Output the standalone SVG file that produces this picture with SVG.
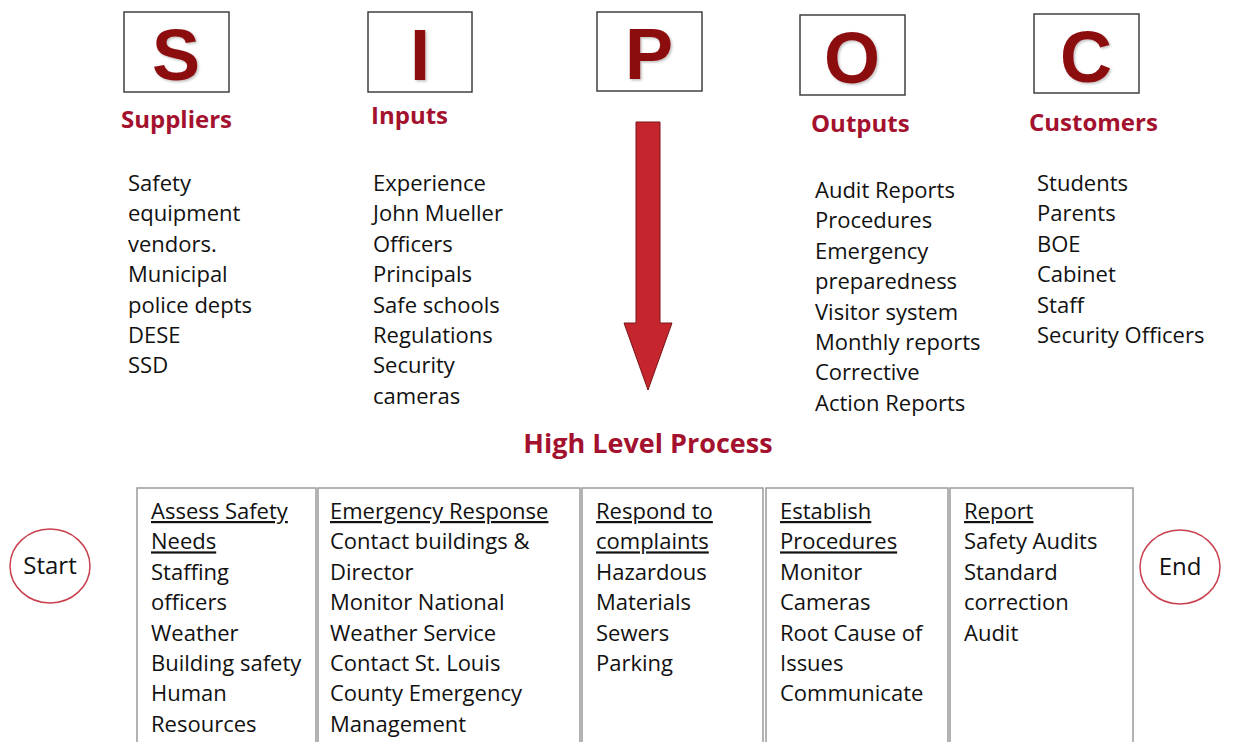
<svg xmlns="http://www.w3.org/2000/svg" width="1233" height="742" viewBox="0 0 1233 742">
  <style>
    .letterbox { fill: #ffffff; stroke: #404040; stroke-width: 1.5; }
    .letter { font-family: "Liberation Sans", Arial, sans-serif; font-weight: bold; font-size: 72px; fill: #8c0a10; text-anchor: middle; }
    .head { font-family: "Open Sans", "Noto Sans", sans-serif; font-weight: bold; font-size: 24px; fill: #a3112e; }
    .title { font-size: 27px; text-anchor: middle; }
    .body { font-family: "Open Sans", "Noto Sans", sans-serif; font-size: 22px; fill: #111111; }
    .termtext { font-size: 24px; text-anchor: middle; }
    .cell { fill: #ffffff; stroke: #9a9a9a; stroke-width: 1.5; }
    .u { text-decoration: underline; }
    .term { fill: #ffffff; stroke: #c8404e; stroke-width: 1.5; }
  </style>
  <defs>
    <filter id="soft" x="-10%" y="-10%" width="130%" height="130%">
      <feDropShadow dx="1.5" dy="1.5" stdDeviation="1" flood-color="#000" flood-opacity="0.25"/>
    </filter>
  </defs>
  <rect width="1233" height="742" fill="#ffffff"/>

  <!-- SIPOC letter headers -->
  <g id="node-s">
    <rect class="letterbox" x="124" y="12" width="105" height="80"/>
    <text class="letter" x="176" y="80" filter="url(#soft)">S</text>
    <text class="head" x="121" y="128">Suppliers</text>
    <text class="body" x="128" y="191">
      <tspan x="128">Safety</tspan>
      <tspan x="128" dy="30.4">equipment</tspan>
      <tspan x="128" dy="30.4">vendors.</tspan>
      <tspan x="128" dy="30.4">Municipal</tspan>
      <tspan x="128" dy="30.4">police depts</tspan>
      <tspan x="128" dy="30.4">DESE</tspan>
      <tspan x="128" dy="30.4">SSD</tspan>
    </text>
  </g>

  <g id="node-i">
    <rect class="letterbox" x="368" y="12" width="104" height="80"/>
    <text class="letter" x="420" y="80" filter="url(#soft)">I</text>
    <text class="head" x="371" y="124">Inputs</text>
    <text class="body" x="373" y="191">
      <tspan x="373">Experience</tspan>
      <tspan x="373" dy="30.4">John Mueller</tspan>
      <tspan x="373" dy="30.4">Officers</tspan>
      <tspan x="373" dy="30.4">Principals</tspan>
      <tspan x="373" dy="30.4">Safe schools</tspan>
      <tspan x="373" dy="30.4">Regulations</tspan>
      <tspan x="373" dy="30.4">Security</tspan>
      <tspan x="373" dy="30.4">cameras</tspan>
    </text>
  </g>

  <g id="node-p">
    <rect class="letterbox" x="597" y="12" width="105" height="79"/>
    <text class="letter" x="649" y="79" filter="url(#soft)">P</text>
  </g>

  <g id="node-o">
    <rect class="letterbox" x="800" y="15" width="105" height="80"/>
    <text class="letter" x="852" y="83" filter="url(#soft)">O</text>
    <text class="head" x="811" y="132">Outputs</text>
    <text class="body" x="815" y="198">
      <tspan x="815">Audit Reports</tspan>
      <tspan x="815" dy="30.4">Procedures</tspan>
      <tspan x="815" dy="30.4">Emergency</tspan>
      <tspan x="815" dy="30.4">preparedness</tspan>
      <tspan x="815" dy="30.4">Visitor system</tspan>
      <tspan x="815" dy="30.4">Monthly reports</tspan>
      <tspan x="815" dy="30.4">Corrective</tspan>
      <tspan x="815" dy="30.4">Action Reports</tspan>
    </text>
  </g>

  <g id="node-c">
    <rect class="letterbox" x="1034" y="14" width="105" height="79"/>
    <text class="letter" x="1086" y="82" filter="url(#soft)">C</text>
    <text class="head" x="1029" y="131">Customers</text>
    <text class="body" x="1037" y="191">
      <tspan x="1037">Students</tspan>
      <tspan x="1037" dy="30.4">Parents</tspan>
      <tspan x="1037" dy="30.4">BOE</tspan>
      <tspan x="1037" dy="30.4">Cabinet</tspan>
      <tspan x="1037" dy="30.4">Staff</tspan>
      <tspan x="1037" dy="30.4">Security Officers</tspan>
    </text>
  </g>

  <!-- downward process arrow -->
  <g id="connectors">
    <path d="M636,122 L660,122 L660,323 L672,323 L648,390 L624,323 L636,323 Z" fill="#c5262e" stroke="#7a1418" stroke-width="1"/>
  </g>

  <g id="title">
    <text class="head title" x="648" y="453">High Level Process</text>
  </g>

  <!-- terminals -->
  <g id="node-start">
    <ellipse class="term" cx="50" cy="566" rx="40" ry="37"/>
    <text class="body termtext" x="50" y="574">Start</text>
  </g>
  <g id="node-end">
    <ellipse class="term" cx="1180" cy="567" rx="40" ry="37"/>
    <text class="body termtext" x="1180" y="575">End</text>
  </g>

  <!-- process steps -->
  <g id="step-assess">
    <rect class="cell" x="137" y="488" width="179" height="270"/>
    <text class="body" x="151" y="519">
      <tspan x="151" class="u">Assess Safety</tspan>
      <tspan x="151" dy="30.4" class="u">Needs</tspan>
      <tspan x="151" dy="30.4">Staffing</tspan>
      <tspan x="151" dy="30.4">officers</tspan>
      <tspan x="151" dy="30.4">Weather</tspan>
      <tspan x="151" dy="30.4">Building safety</tspan>
      <tspan x="151" dy="30.4">Human</tspan>
      <tspan x="151" dy="30.4">Resources</tspan>
    </text>
  </g>

  <g id="step-emergency">
    <rect class="cell" x="318" y="488" width="262" height="270"/>
    <text class="body" x="330" y="519">
      <tspan x="330" class="u">Emergency Response</tspan>
      <tspan x="330" dy="30.4">Contact buildings &amp;</tspan>
      <tspan x="330" dy="30.4">Director</tspan>
      <tspan x="330" dy="30.4">Monitor National</tspan>
      <tspan x="330" dy="30.4">Weather Service</tspan>
      <tspan x="330" dy="30.4">Contact St. Louis</tspan>
      <tspan x="330" dy="30.4">County Emergency</tspan>
      <tspan x="330" dy="30.4">Management</tspan>
    </text>
  </g>

  <g id="step-complaints">
    <rect class="cell" x="582" y="488" width="181" height="270"/>
    <text class="body" x="596" y="519">
      <tspan x="596" class="u">Respond to</tspan>
      <tspan x="596" dy="30.4" class="u">complaints</tspan>
      <tspan x="596" dy="30.4">Hazardous</tspan>
      <tspan x="596" dy="30.4">Materials</tspan>
      <tspan x="596" dy="30.4">Sewers</tspan>
      <tspan x="596" dy="30.4">Parking</tspan>
    </text>
  </g>

  <g id="step-procedures">
    <rect class="cell" x="766" y="488" width="182" height="270"/>
    <text class="body" x="780" y="519">
      <tspan x="780" class="u">Establish</tspan>
      <tspan x="780" dy="30.4" class="u">Procedures</tspan>
      <tspan x="780" dy="30.4">Monitor</tspan>
      <tspan x="780" dy="30.4">Cameras</tspan>
      <tspan x="780" dy="30.4">Root Cause of</tspan>
      <tspan x="780" dy="30.4">Issues</tspan>
      <tspan x="780" dy="30.4">Communicate</tspan>
    </text>
  </g>

  <g id="step-report">
    <rect class="cell" x="950" y="488" width="183" height="270"/>
    <text class="body" x="964" y="519">
      <tspan x="964" class="u">Report</tspan>
      <tspan x="964" dy="30.4">Safety Audits</tspan>
      <tspan x="964" dy="30.4">Standard</tspan>
      <tspan x="964" dy="30.4">correction</tspan>
      <tspan x="964" dy="30.4">Audit</tspan>
    </text>
  </g>
</svg>
